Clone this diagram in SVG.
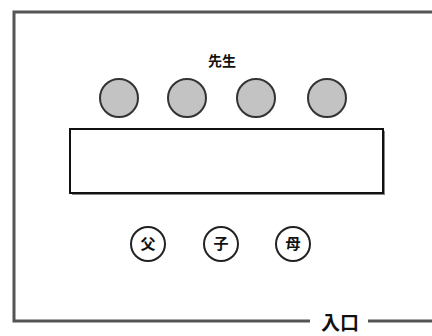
<svg xmlns="http://www.w3.org/2000/svg" width="432" height="336" viewBox="0 0 432 336">
<style>
.frame{fill:none;stroke:#555;stroke-width:3}
.seat{fill:#c3c3c3;stroke:#333;stroke-width:2}
.person{fill:#fff;stroke:#222;stroke-width:2}
.t{font-family:"Noto Sans CJK JP","Noto Sans CJK SC",sans-serif;font-weight:bold;fill:#111;text-anchor:middle}
</style>
<rect width="432" height="336" fill="#fff"/>
<g id="room">
<polyline class="frame" points="310,321 14,321 14,12 432,12"/>
<line class="frame" x1="368" y1="321" x2="432" y2="321"/>
</g>
<g id="entrance"><text class="t" x="340" y="330" font-size="19">入口</text></g>
<g id="teacher-label"><text class="t" x="222" y="66" font-size="14">先生</text></g>
<g id="teacher1"><circle class="seat" cx="119" cy="98" r="19"/></g>
<g id="teacher2"><circle class="seat" cx="187" cy="98" r="19"/></g>
<g id="teacher3"><circle class="seat" cx="256" cy="98" r="19"/></g>
<g id="teacher4"><circle class="seat" cx="327" cy="98" r="19"/></g>
<g id="desk">
<rect x="72" y="131" width="313" height="64" fill="#888"/>
<rect x="70" y="129" width="313" height="64" fill="#fff" stroke="#111" stroke-width="2"/>
</g>
<g id="father"><circle class="person" cx="148" cy="244" r="17"/><text class="t" x="148" y="249" font-size="15">父</text></g>
<g id="child"><circle class="person" cx="221" cy="244" r="17"/><text class="t" x="221" y="249" font-size="15">子</text></g>
<g id="mother"><circle class="person" cx="293" cy="244" r="17"/><text class="t" x="293" y="249" font-size="15">母</text></g>
<g id="connectors"></g>
</svg>
